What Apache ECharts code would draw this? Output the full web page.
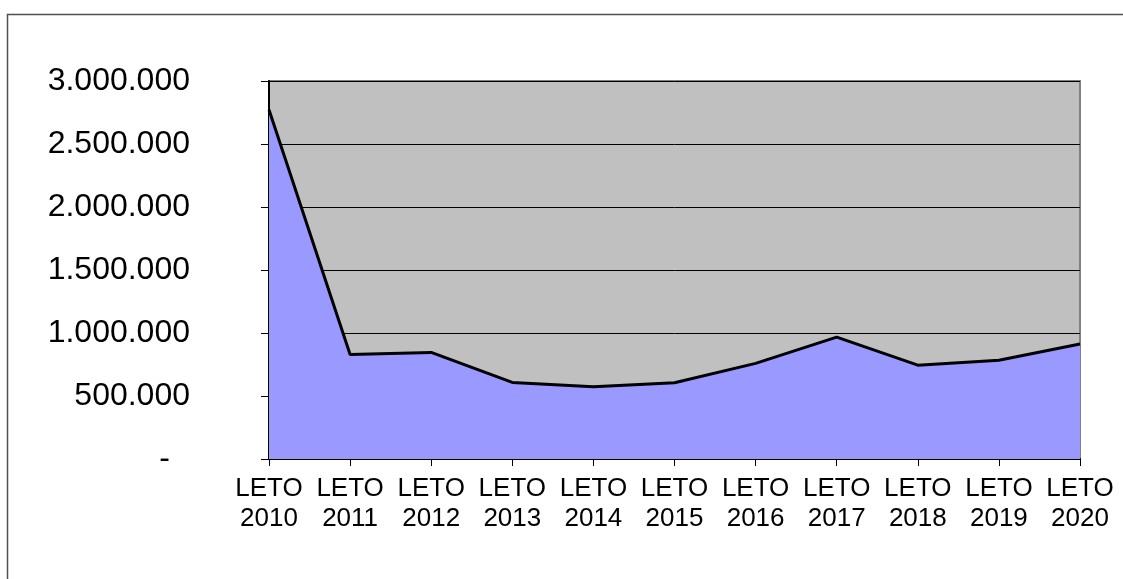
<!DOCTYPE html>
<html>
<head>
<meta charset="utf-8">
<script src="https://cdn.jsdelivr.net/npm/echarts@6/dist/echarts.min.js"></script>
<style>
html,body{margin:0;padding:0;background:#fff;}
#c{width:1123px;height:579px;}
</style>
</head>
<body>
<div id="c"></div>
<script>
const categories = ['LETO\n2010','LETO\n2011','LETO\n2012','LETO\n2013','LETO\n2014','LETO\n2015','LETO\n2016','LETO\n2017','LETO\n2018','LETO\n2019','LETO\n2020'];
const values = [2772000, 830000, 846000, 608000, 573000, 605000, 759000, 967000, 745000, 783000, 912000];
const yMin = 0, yMax = 3000000, yStep = 500000;

function fmt(v){
  if (v === 0) return '{dash|-}';
  return String(v).replace(/\B(?=(\d{3})+(?!\d))/g, '.');
}

const chart = echarts.init(document.getElementById('c'), null, {renderer:'canvas'});
chart.setOption({
  animation:false,
  backgroundColor:'#ffffff',
  graphic:[{
    type:'rect', z:-10,
    shape:{x:7.5, y:14.5, width:1300, height:800},
    style:{fill:'#ffffff', stroke:'#505050', lineWidth:1.5}
  }],
  grid:{left:269, top:81, width:811, height:378, show:true, backgroundColor:'#C0C0C0', borderColor:'#808080', borderWidth:2},
  xAxis:{
    type:'category', data:categories, boundaryGap:false,
    axisLine:{show:true, lineStyle:{color:'#000', width:2}},
    axisTick:{show:true, length:7, lineStyle:{color:'#000', width:1}},
    axisLabel:{color:'#000', fontFamily:'Liberation Sans, Arial', fontSize:26, lineHeight:30, margin:15, interval:0},
    splitLine:{show:false}
  },
  yAxis:{
    type:'value', min:yMin, max:yMax, interval:yStep,
    axisLine:{show:true, lineStyle:{color:'#000', width:2}},
    axisTick:{show:true, length:8, lineStyle:{color:'#000', width:1}},
    axisLabel:{color:'#000', fontFamily:'Liberation Sans, Arial', fontSize:32, margin:79, formatter:fmt,
      rich:{dash:{fontFamily:'Liberation Sans, Arial', fontSize:32, color:'#000', padding:[0,20,0,0]}}},
    splitLine:{show:true, lineStyle:{color:'#000', width:1}}
  },
  series:[{
    type:'line', data:values, symbol:'none',
    lineStyle:{color:'#000', width:3},
    areaStyle:{color:'#9999FF', opacity:1}
  }]
});
</script>
</body>
</html>
